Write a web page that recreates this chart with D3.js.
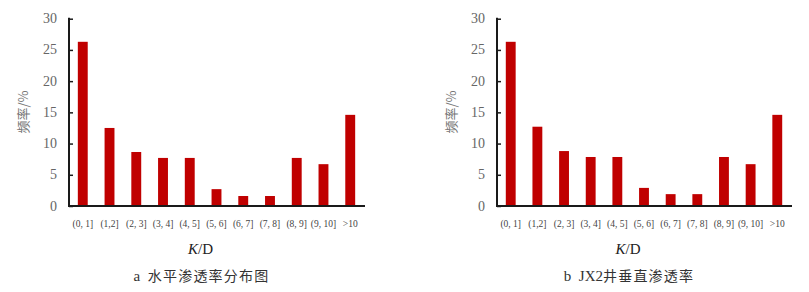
<!DOCTYPE html>
<html>
<head>
<meta charset="utf-8">
<script src="https://cdn.jsdelivr.net/npm/d3@7"></script>
<style>
  body { margin: 0; background: #fff; }
  svg { display: block; }
</style>
</head>
<body>
<div id="chart"></div>
<script>
const categories = ['(0, 1]', '(1,2]', '(2, 3]', '(3, 4]', '(4, 5]', '(5, 6]', '(6, 7]', '(7, 8]', '(8, 9]', '(9, 10]', '>10'];
const horizontalValues = [26.3, 12.5, 8.65, 7.7, 7.7, 2.7, 1.6, 1.6, 7.7, 6.7, 14.6];
const verticalValues = [26.3, 12.7, 8.8, 7.85, 7.85, 2.9, 1.9, 1.9, 7.85, 6.7, 14.6];
const yTicks = [0, 5, 10, 15, 20, 25, 30];

const width = 809, height = 292;
const serif = '"Liberation Serif", "DejaVu Serif", serif';
const cjk = '"Noto Sans CJK SC", sans-serif';

const svg = d3.select('#chart').append('svg')
  .attr('width', width)
  .attr('height', height);

function drawPanel(x0, x1, values, tag, captionLatin, captionCjk) {
  const g = svg.append('g');

  const x = d3.scaleBand()
    .domain(categories)
    .range([x0, x1])
    .paddingInner(0.63)
    .paddingOuter(0.33);

  const y = d3.scaleLinear()
    .domain([0, 30])
    .range([206, 18.7]);

  // bars
  g.selectAll('rect')
    .data(values)
    .enter()
    .append('rect')
    .attr('x', (d, i) => x(categories[i]))
    .attr('y', d => y(d))
    .attr('width', x.bandwidth())
    .attr('height', d => y(0) - y(d))
    .attr('fill', '#c00000');

  // y axis with inward ticks
  const yAxis = g.append('g')
    .attr('transform', `translate(${x0},0)`)
    .call(d3.axisRight(y).tickValues(yTicks).tickSize(4).tickFormat(''));
  yAxis.select('.domain').remove();
  yAxis.selectAll('.tick line').attr('stroke', '#1a1a1a').attr('stroke-width', 1.5);

  g.append('line')
    .attr('x1', x0).attr('x2', x0)
    .attr('y1', y(30) - 1).attr('y2', y(0) + 1)
    .attr('stroke', '#1a1a1a').attr('stroke-width', 2);

  g.selectAll('.ylab')
    .data(yTicks)
    .enter()
    .append('text')
    .attr('x', x0 - 12)
    .attr('y', d => y(d) + 4.5)
    .attr('text-anchor', 'end')
    .attr('font-family', serif)
    .attr('font-size', 14)
    .attr('fill', '#666')
    .text(d => d);

  // x axis line
  g.append('line')
    .attr('x1', x0 - 1).attr('x2', x1 + 1)
    .attr('y1', y(0)).attr('y2', y(0))
    .attr('stroke', '#1a1a1a').attr('stroke-width', 2);

  g.selectAll('.xlab')
    .data(categories)
    .enter()
    .append('text')
    .attr('x', d => x(d) + x.bandwidth() / 2)
    .attr('y', 227)
    .attr('text-anchor', 'middle')
    .attr('font-family', serif)
    .attr('font-size', 9.5)
    .attr('fill', '#444')
    .text(d => d);

  // y axis title
  g.append('text')
    .attr('transform', `translate(${x0 - 41},112) rotate(-90)`)
    .attr('text-anchor', 'middle')
    .attr('font-family', cjk)
    .attr('font-size', 13)
    .attr('fill', '#777')
    .text('频率/%');

  // x axis title
  const kd = g.append('text')
    .attr('x', (x0 + x1) / 2 - 16)
    .attr('y', 254)
    .attr('text-anchor', 'middle')
    .attr('font-family', serif)
    .attr('font-size', 15)
    .attr('fill', '#222');
  kd.append('tspan').attr('font-style', 'italic').text('K');
  kd.append('tspan').text('/D');

  // caption
  const cap = g.append('text')
    .attr('x', (x0 + x1) / 2 - 15)
    .attr('y', 281)
    .attr('text-anchor', 'middle')
    .attr('font-size', 14)
    .attr('fill', '#333');
  cap.append('tspan').attr('font-family', serif).attr('font-size', 15).text(tag + '\u00a0\u00a0' + captionLatin);
  cap.append('tspan').attr('font-family', cjk).attr('letter-spacing', 1.2).text(captionCjk);
}

drawPanel(69, 364, horizontalValues, 'a', '', '水平渗透率分布图');
drawPanel(497, 791, verticalValues, 'b', 'JX2', '井垂直渗透率');
</script>
</body>
</html>
